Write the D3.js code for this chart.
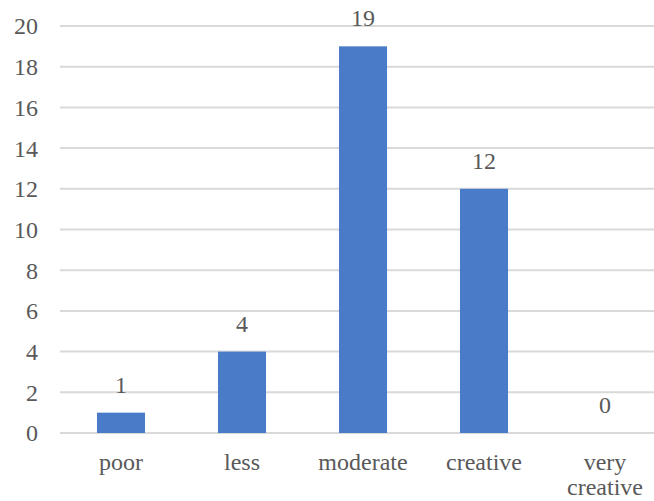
<!DOCTYPE html>
<html>
<head>
<meta charset="utf-8">
<script src="https://cdn.jsdelivr.net/npm/d3@7"></script>
<style>
  html, body { margin: 0; padding: 0; background: #fff; }
  svg { display: block; }
</style>
</head>
<body>
<svg id="chart" width="654" height="501" font-family="Liberation Serif"></svg>
<script>
// Creativity ratings: number of respondents in each category
const categories = ["poor", "less", "moderate", "creative", "very creative"];
const counts = [1, 4, 19, 12, 0];
const yTicks = [0, 2, 4, 6, 8, 10, 12, 14, 16, 18, 20];

const width = 654, height = 501;
const svg = d3.select("#chart");
const serif = "Liberation Serif";
const textColor = "#595959";

const x = d3.scaleBand()
  .domain(categories)
  .range([60.5, 665.5])
  .paddingInner(0.603)
  .paddingOuter(0.3015);

const y = d3.scaleLinear()
  .domain([0, 20])
  .range([433, 26]);

// Horizontal gridlines (the zero line doubles as the category axis)
svg.append("g")
  .selectAll("line")
  .data(yTicks)
  .join("line")
  .attr("x1", 60)
  .attr("x2", width)
  .attr("y1", d => y(d))
  .attr("y2", d => y(d))
  .attr("stroke", "#d9d9d9")
  .attr("stroke-width", 2);

// Value axis labels
svg.append("g")
  .selectAll("text")
  .data(yTicks)
  .join("text")
  .attr("x", 38)
  .attr("y", d => y(d))
  .attr("dy", "0.35em")
  .attr("text-anchor", "end")
  .attr("font-family", serif)
  .attr("font-size", 24)
  .attr("fill", textColor)
  .text(d => d);

// Bars
svg.append("g")
  .selectAll("rect")
  .data(categories)
  .join("rect")
  .attr("x", d => x(d))
  .attr("width", x.bandwidth())
  .attr("y", (d, i) => y(counts[i]))
  .attr("height", (d, i) => y(0) - y(counts[i]))
  .attr("fill", "#4a7bc8");

// Value labels above bars
svg.append("g")
  .selectAll("text")
  .data(categories)
  .join("text")
  .attr("x", d => x(d) + x.bandwidth() / 2)
  .attr("y", (d, i) => y(counts[i]) - 20)
  .attr("text-anchor", "middle")
  .attr("font-family", serif)
  .attr("font-size", 24)
  .attr("fill", textColor)
  .text((d, i) => counts[i]);

// Category labels, wrapped onto separate lines at spaces
const catLabels = svg.append("g")
  .selectAll("text")
  .data(categories)
  .join("text")
  .attr("x", d => x(d) + x.bandwidth() / 2)
  .attr("y", 470)
  .attr("text-anchor", "middle")
  .attr("font-family", serif)
  .attr("font-size", 24)
  .attr("fill", textColor);

catLabels.each(function(d) {
  const words = d.split(" ");
  const t = d3.select(this);
  words.forEach((w, i) => {
    t.append("tspan")
      .attr("x", x(d) + x.bandwidth() / 2)
      .attr("dy", i === 0 ? 0 : 25)
      .text(w);
  });
});
</script>
</body>
</html>
